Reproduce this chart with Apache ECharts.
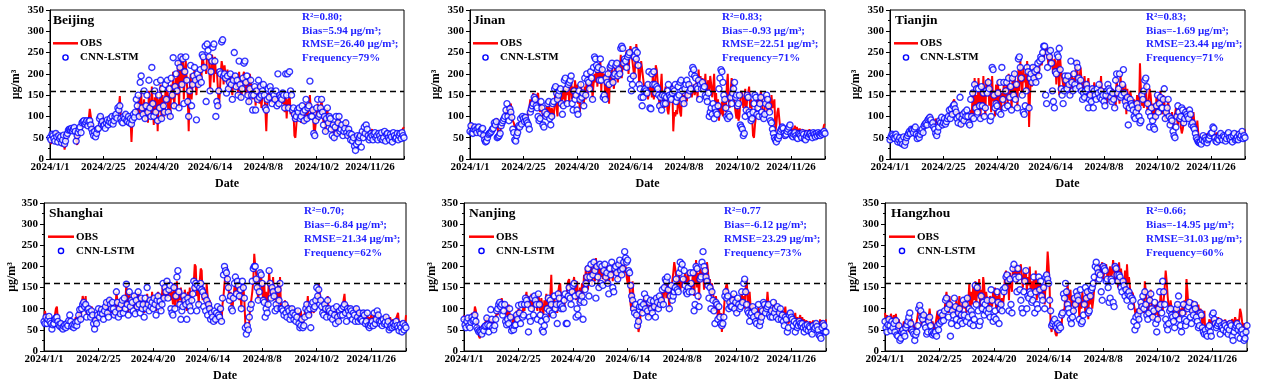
<!DOCTYPE html>
<html><head><meta charset="utf-8">
<script src="https://cdn.jsdelivr.net/npm/echarts@6/dist/echarts.min.js"></script>
<style>html,body{margin:0;padding:0;background:#fff}#c{width:1268px;height:383px}</style>
</head><body><div id="c"></div>
<script>
const tickLabels = ['2024/1/1','2024/2/25','2024/4/20','2024/6/14','2024/8/8','2024/10/2','2024/11/26'];
const tickDays = [0,55,110,165,220,275,330];
const cities = ['Beijing','Jinan','Tianjin','Shanghai','Nanjing','Hangzhou'];
const seriesNames = ['OBS','CNN-LSTM'];
const statR2 = ['R²=0.80;','R²=0.83;','R²=0.83;','R²=0.70;','R²=0.77','R²=0.66;'];
const statBias = ['Bias=5.94 μg/m³;','Bias=-0.93 μg/m³;','Bias=-1.69 μg/m³;','Bias=-6.84 μg/m³;','Bias=-6.12 μg/m³;','Bias=-14.95 μg/m³;'];
const statRMSE = ['RMSE=26.40 μg/m³;','RMSE=22.51 μg/m³;','RMSE=23.44 μg/m³;','RMSE=21.34 μg/m³;','RMSE=23.29 μg/m³;','RMSE=31.03 μg/m³;'];
const statFreq = ['Frequency=79%','Frequency=71%','Frequency=71%','Frequency=62%','Frequency=73%','Frequency=60%'];
const threshold = 160;

const obsBeijing = [
45,35,55,60,50,40,55,65,45,50,
40,55,30,45,60,22,35,50,65,70,
68,70,67,72,68,70,60,45,33,55,
60,70,65,80,85,90,75,88,92,80,
95,118,120,85,70,60,75,55,65,72,
60,85,78,95,100,88,80,75,82,90,
85,90,95,88,100,80,92,98,105,95,
100,120,148,95,90,85,100,110,95,88,
92,100,85,95,40,90,105,98,110,120,
105,150,95,125,155,110,100,140,90,115,
130,85,160,110,95,170,120,80,145,100,
165,65,140,110,175,90,150,120,100,160,
130,185,100,150,95,175,140,205,120,160,
190,150,230,120,200,245,170,245,140,210,
230,180,150,65,160,200,140,175,190,210,
180,150,200,170,195,210,185,240,230,215,
220,200,245,248,235,160,200,245,230,180,
240,200,210,170,120,150,200,230,215,175,
220,195,180,210,160,175,200,170,150,185,
200,190,165,180,150,205,170,140,160,195,
205,175,150,190,165,130,200,180,160,140,
150,170,125,160,140,175,130,155,120,150,
160,150,120,65,130,155,140,165,150,130,
145,150,130,160,140,155,120,150,140,135,
130,160,110,150,95,140,120,160,105,125,
100,115,55,50,80,110,95,120,100,85,
120,100,85,115,130,90,110,125,150,100,
95,120,70,60,85,110,130,90,100,120,
140,110,85,100,60,95,120,80,105,90,
75,60,85,45,70,90,55,80,100,85,
70,80,55,65,75,90,60,50,70,65,
45,60,40,55,35,50,40,60,45,55,
60,55,65,50,70,60,55,65,50,60,
55,65,70,60,50,55,62,58,65,50,
58,52,62,48,55,60,50,57,62,55,
52,60,55,48,62,58,50,55,60,52,
58,62,55,68,70,75];
const cnnBeijing = [
50,45,58,55,48,42,60,52,40,55,
48,52,38,45,56,35,42,55,60,68,
70,68,72,66,70,74,65,42,55,62,
70,75,62,85,88,90,82,86,90,78,
88,90,80,70,62,55,65,52,60,70,
72,95,100,82,88,78,80,72,85,92,
80,88,95,85,100,82,90,100,105,96,
120,115,125,95,88,85,100,95,105,90,
88,100,85,95,82,92,105,98,110,140,
125,150,100,180,195,120,105,160,95,125,
150,110,185,120,100,215,130,100,160,110,
180,90,150,120,185,95,165,125,110,175,
140,185,110,165,100,190,150,238,125,170,
200,160,225,120,215,240,175,235,130,205,
240,185,135,100,160,220,125,175,195,215,
185,92,200,175,190,210,180,245,240,215,
265,135,270,255,240,160,205,230,262,270,
230,100,135,125,160,205,200,275,280,195,
200,190,155,195,165,180,200,175,140,185,
250,195,170,185,150,230,175,145,165,190,
225,230,180,195,150,135,165,185,150,115,
150,170,115,160,140,185,145,170,150,160,
175,150,120,115,140,165,145,170,160,130,
155,150,140,160,125,200,130,150,145,140,
155,150,120,200,150,200,120,205,160,150,
115,120,105,95,100,115,110,120,95,100,
125,110,90,115,140,95,120,125,183,100,
100,115,60,55,90,120,140,100,105,120,
140,110,80,100,65,95,120,85,100,95,
70,55,80,50,75,100,60,85,100,65,
70,80,55,65,72,85,62,55,70,60,
45,58,42,50,30,20,35,55,40,50,
55,28,65,50,75,60,80,70,55,45,
50,60,55,45,58,62,50,55,45,60,
55,48,62,45,50,65,42,58,60,50,
45,58,52,40,62,55,48,50,60,45,
55,60,48,62,55,50];

const obsJinan = [
70,85,60,55,72,80,65,58,70,75,
62,55,68,72,50,42,38,48,55,60,
62,58,65,70,75,80,72,90,95,60,
55,65,75,80,95,88,100,110,120,105,
95,125,130,100,90,85,75,80,72,70,
65,80,90,85,100,95,88,100,105,98,
95,120,140,110,135,155,120,140,130,150,
155,125,110,130,120,100,115,95,110,125,
105,130,115,100,120,110,95,130,170,120,
100,172,135,150,120,160,140,170,130,165,
150,175,130,160,190,140,170,145,185,160,
175,130,150,110,180,145,160,125,170,140,
195,150,205,170,165,190,140,175,200,180,
210,170,225,190,230,160,215,185,200,150,
195,140,215,130,200,170,220,180,165,210,
230,195,180,215,205,245,190,225,210,240,
235,255,230,200,250,265,245,230,210,190,
230,270,272,215,175,200,230,210,190,170,
160,150,175,140,155,180,165,145,200,140,
165,220,210,180,150,120,165,200,140,130,
120,170,150,115,105,130,155,140,175,65,
110,100,115,105,145,130,110,100,155,140,
150,125,160,135,170,150,180,165,145,160,
175,150,160,185,140,210,175,195,165,190,
180,165,200,150,170,185,160,195,175,145,
165,200,130,155,110,140,90,120,105,135,
100,130,150,110,170,200,140,120,160,190,
180,150,130,110,95,120,90,100,140,160,
150,120,130,165,110,140,155,170,120,140,
100,55,50,80,100,140,130,150,120,160,
140,105,95,120,150,130,110,125,140,110,
150,120,130,140,65,80,110,120,95,70,
62,55,60,48,58,65,70,60,68,75,
65,72,60,70,78,65,75,68,62,72,
58,65,70,55,62,68,60,65,58,70,
55,62,58,65,52,60,56,62,58,65,
60,58,62,68,80,82];
const cnnJinan = [
65,78,62,60,70,75,68,62,72,75,
65,60,70,72,55,45,40,42,50,58,
60,62,65,70,72,85,80,88,50,52,
55,60,78,85,90,95,100,115,130,100,
90,118,110,98,70,62,45,42,55,62,
78,75,95,82,100,95,88,98,90,85,
80,70,110,118,125,130,145,140,125,120,
100,90,95,135,120,80,75,110,100,105,
130,135,95,80,100,130,135,165,170,155,
140,150,160,165,130,105,125,185,190,165,
130,175,180,185,195,130,115,160,140,150,
115,105,160,140,175,145,155,125,190,150,
200,185,180,165,205,190,140,215,240,235,
220,210,215,185,235,185,210,145,150,140,
190,180,200,175,215,220,225,180,195,200,
220,225,195,210,200,260,265,260,225,235,
230,215,240,245,250,188,160,175,195,240,
255,235,250,220,175,165,145,125,145,160,
165,160,155,175,205,120,118,200,175,205,
175,155,170,165,150,125,145,115,150,130,
148,130,145,160,175,150,145,140,155,165,
160,175,135,145,170,150,180,185,160,140,
130,165,175,185,150,175,160,165,200,215,
210,195,190,170,165,185,140,175,165,180,
165,170,150,145,135,155,100,110,120,105,
130,95,120,110,105,125,165,190,210,205,
180,150,140,120,100,95,105,100,145,130,
155,165,180,145,150,125,130,150,80,75,
70,55,60,100,115,150,145,110,105,90,
95,110,130,150,145,105,120,100,130,145,
110,100,95,105,130,150,140,125,110,90,
85,70,60,50,45,40,50,48,55,65,
70,75,72,60,55,58,65,70,75,80,
60,55,52,58,62,55,50,48,60,58,
55,50,62,58,48,45,55,60,52,58,
60,55,50,62,58,52,60,55,62,58,
55,60,58,62,65,60];

const obsTianjin = [
45,55,50,60,48,42,55,50,38,45,
52,40,48,35,55,30,42,55,50,58,
62,55,68,70,60,65,72,58,50,62,
55,60,68,72,65,75,80,85,78,90,
95,105,98,85,90,75,82,95,88,80,
78,90,85,92,80,88,95,85,90,95,
100,110,95,120,105,135,140,120,110,115,
100,95,110,75,90,100,85,110,95,100,
105,90,80,115,100,160,95,190,120,150,
110,190,130,95,170,120,195,140,100,185,
150,190,125,170,110,195,135,160,100,175,
130,185,120,165,105,155,140,175,120,160,
180,130,200,145,170,115,190,150,205,140,
175,120,210,160,230,190,150,215,180,200,
160,230,185,75,150,200,170,220,190,210,
180,205,215,195,230,240,220,245,235,250,
255,265,240,220,250,230,245,215,200,235,
230,175,220,240,150,235,205,190,175,160,
200,185,165,195,175,150,180,205,160,190,
175,210,230,200,165,190,215,180,160,170,
195,160,145,175,190,150,165,135,170,155,
180,160,140,165,150,175,160,195,140,155,
165,140,150,130,175,160,145,130,150,165,
140,155,120,190,150,165,130,200,145,175,
160,130,175,105,165,140,120,160,145,130,
115,140,120,100,150,130,110,225,160,125,
140,120,150,175,130,110,140,165,150,120,
100,130,115,90,150,125,110,140,160,120,
105,150,135,90,120,110,140,100,80,95,
110,70,90,105,120,95,80,100,110,75,
60,70,85,105,120,110,100,115,90,105,
80,95,110,85,75,65,90,60,45,40,
35,42,55,38,50,45,60,52,48,55,
58,52,60,65,50,55,62,58,48,55,
60,52,58,62,55,50,58,60,52,56,
55,62,58,50,60,55,65,58,52,60,
62,55,58,65,60,70];
const cnnTianjin = [
45,52,58,55,50,48,58,52,40,45,
50,38,45,35,52,32,40,50,55,60,
65,60,70,68,62,70,75,58,48,55,
50,58,65,70,62,78,82,85,80,92,
95,98,92,80,85,75,70,60,55,65,
75,90,85,98,80,85,95,82,88,95,
100,115,95,118,105,125,128,118,110,95,
85,100,145,82,95,105,90,110,100,115,
100,85,80,140,100,155,95,175,120,165,
110,165,125,95,170,125,155,100,120,160,
155,180,165,90,100,215,210,150,120,130,
125,155,110,180,105,215,140,180,120,160,
180,125,190,145,170,115,190,150,200,140,
175,120,235,240,215,190,150,110,105,125,
160,215,205,120,190,200,180,215,190,205,
180,210,225,195,230,240,235,250,265,265,
150,130,215,250,240,255,225,160,135,120,
205,200,245,240,260,210,165,150,130,160,
195,185,165,195,175,150,230,180,160,200,
175,165,225,215,190,170,185,160,140,155,
145,160,175,165,120,140,150,135,165,120,
160,150,140,165,155,175,145,160,140,150,
135,125,150,160,175,165,160,145,135,155,
140,120,185,200,155,165,200,145,150,175,
210,155,135,125,145,80,120,140,130,125,
115,100,95,110,130,120,100,85,90,150,
140,160,185,190,170,130,110,75,100,120,
90,75,70,100,125,150,110,130,145,120,
120,140,165,95,110,120,140,100,80,95,
90,65,55,50,75,100,125,110,95,100,
120,115,85,95,110,105,100,95,115,105,
80,85,75,70,60,50,45,40,38,40,
35,45,55,42,50,45,38,45,48,55,
60,62,75,72,50,42,40,48,45,55,
60,50,45,55,52,42,48,58,62,50,
45,52,40,55,60,45,48,52,45,58,
50,55,65,48,55,50];

const obsShanghai = [
70,95,80,65,75,85,70,65,60,75,
70,85,100,105,75,65,60,70,62,58,
60,65,55,70,62,75,80,68,60,72,
65,70,80,60,75,90,100,70,110,130,
120,95,130,85,110,100,90,80,105,95,
70,55,80,65,90,100,85,95,105,90,
80,100,110,120,95,85,125,105,90,115,
100,80,95,140,120,90,105,85,110,125,
95,130,110,160,120,90,140,100,125,115,
105,135,90,120,100,140,110,95,130,100,
115,90,120,100,135,110,95,125,105,140,
100,130,110,95,125,140,105,120,95,135,
160,120,150,130,165,125,145,155,120,140,
110,160,100,130,165,105,140,120,150,110,
130,100,145,115,95,140,120,150,105,125,
140,160,205,200,130,150,110,165,195,190,
120,150,140,105,160,130,95,120,110,90,
85,75,95,65,80,105,90,75,100,70,
110,130,160,180,200,170,150,120,140,105,
100,125,150,170,135,160,145,120,140,100,
160,155,120,65,50,45,55,70,110,120,
140,165,230,200,180,150,120,160,190,175,
145,120,165,110,140,100,130,190,150,120,
140,175,120,150,130,100,165,120,175,95,
110,100,90,120,95,85,110,100,80,90,
105,95,80,90,75,85,100,70,80,95,
70,60,75,90,110,100,130,85,95,80,
115,100,90,120,105,130,125,160,140,110,
120,100,90,115,105,85,130,100,95,80,
90,75,100,85,70,95,80,65,90,85,
100,85,120,135,100,90,110,95,85,105,
100,80,95,90,75,105,85,80,95,75,
80,70,95,85,75,70,90,65,80,75,
85,70,75,90,65,80,95,85,70,80,
75,65,80,70,72,85,68,75,65,80,
70,65,75,60,70,68,72,90,62,70,
65,70,60,55,60,85];
const cnnShanghai = [
70,65,80,65,75,82,70,65,52,62,
65,75,78,80,70,62,58,65,55,52,
58,62,55,65,60,72,85,70,58,62,
55,62,68,60,70,85,98,75,100,110,
115,105,110,80,98,100,92,80,95,85,
65,52,72,65,85,100,80,90,98,88,
75,95,105,115,90,80,120,110,100,115,
100,85,92,140,115,80,100,88,110,120,
90,125,100,158,110,85,140,105,120,115,
95,130,88,120,105,140,110,90,125,100,
110,80,125,100,150,110,95,120,105,115,
100,125,110,85,120,130,105,118,95,110,
160,125,150,140,165,125,145,155,100,90,
85,150,100,130,175,190,140,110,75,95,
105,130,120,110,75,125,115,105,95,120,
135,165,150,160,95,155,110,150,160,145,
140,105,130,95,120,85,110,100,75,90,
80,70,95,75,90,105,85,80,100,70,
125,180,200,190,185,170,150,120,130,100,
95,125,160,175,135,165,155,130,145,100,
165,150,125,55,40,60,50,80,100,110,
165,195,200,200,170,150,120,140,185,180,
160,120,115,80,100,90,110,190,160,125,
150,140,130,95,110,100,145,120,160,100,
100,95,85,110,90,80,100,95,75,85,
100,90,75,85,70,80,95,65,55,60,
75,55,60,80,100,110,95,85,100,55,
110,115,100,105,120,150,130,145,110,120,
105,90,85,110,100,80,120,100,95,80,
90,75,100,85,65,105,80,70,95,85,
100,85,105,110,90,70,100,95,85,100,
95,75,90,85,70,100,80,70,90,75,
75,70,90,85,65,70,90,60,55,60,
65,70,60,90,65,75,95,85,70,65,
70,60,75,65,68,80,62,70,50,55,
60,55,65,58,62,70,60,55,48,62,
55,45,65,50,60,55];

const obsNanjing = [
85,70,60,75,80,65,55,70,90,75,
80,105,95,65,50,35,30,45,60,55,
50,65,70,80,60,55,70,75,60,70,
65,75,80,90,85,100,110,95,125,128,
100,115,85,95,80,110,90,75,85,70,
60,85,70,95,75,100,90,80,95,85,
110,95,125,140,105,130,120,100,135,115,
95,130,120,110,95,135,115,90,125,105,
85,120,100,135,95,115,80,130,180,110,
95,125,105,115,90,140,155,160,120,100,
110,95,130,120,150,165,170,140,120,130,
160,175,145,120,165,130,110,150,125,160,
130,180,160,200,170,145,190,175,205,155,
180,210,165,220,190,205,150,200,175,210,
170,195,185,160,205,175,155,190,180,200,
165,210,195,180,205,170,200,215,190,175,
210,220,185,200,175,160,190,150,110,95,
165,120,85,100,90,70,45,60,85,100,
90,110,130,100,120,95,80,110,125,100,
90,120,105,95,130,115,100,125,110,120,
140,110,150,175,125,160,145,100,130,155,
165,185,210,195,170,150,160,185,140,165,
150,175,160,185,145,170,190,155,165,140,
160,190,130,170,215,150,185,120,195,170,
175,200,145,180,160,210,190,150,170,130,
160,140,120,95,130,110,75,100,80,90,
45,70,95,130,150,160,140,110,125,100,
130,120,135,100,110,90,125,115,105,120,
140,110,130,100,150,170,120,90,140,105,
90,110,80,100,70,95,85,105,60,75,
80,100,115,120,90,105,140,110,95,85,
100,80,110,95,120,85,105,75,90,100,
80,95,70,90,105,75,85,65,70,80,
95,75,85,70,90,65,80,60,75,85,
65,80,70,75,60,72,68,75,62,70,
58,65,72,70,60,68,55,60,50,75,
60,72,65,70,58,75];
const cnnNanjing = [
75,62,55,70,78,60,55,68,80,72,
75,85,70,55,50,45,48,45,40,52,
48,58,60,78,62,45,60,98,75,55,
50,60,75,95,100,110,115,105,110,85,
95,110,70,62,75,65,100,80,48,55,
50,60,62,85,75,108,90,65,110,80,
85,110,125,120,110,45,80,70,100,125,
85,130,120,110,75,135,110,85,70,50,
45,60,80,75,100,125,95,120,110,90,
85,130,100,110,65,135,125,110,100,105,
100,120,135,65,65,130,150,125,110,140,
155,160,130,80,100,85,135,115,120,130,
75,115,145,160,175,195,130,175,205,160,
180,210,190,125,200,175,150,205,160,200,
155,190,205,175,185,160,135,195,180,210,
150,140,195,200,185,170,205,215,190,180,
195,210,235,220,210,215,190,185,155,130,
120,100,90,110,85,60,70,105,115,105,
90,110,135,100,125,95,80,115,120,100,
90,118,105,80,125,115,100,130,110,120,
145,110,150,170,165,175,145,100,130,155,
120,130,140,150,170,145,140,185,210,195,
205,170,190,155,140,135,150,140,185,160,
140,185,95,110,200,195,130,105,170,175,
210,235,200,190,175,165,155,125,150,100,
140,120,95,65,115,110,75,105,80,65,
60,65,80,130,140,125,130,100,115,105,
105,120,135,100,115,90,125,110,100,105,
140,115,160,170,140,110,95,90,70,85,
90,105,80,95,70,65,85,110,60,70,
80,95,115,110,90,100,105,110,85,80,
95,80,115,90,100,80,105,75,90,100,
75,85,70,60,80,75,45,55,85,90,
80,75,60,70,45,65,55,60,70,65,
60,65,55,45,60,52,62,48,58,55,
45,40,60,52,55,65,58,50,38,35,
30,55,65,60,45,45];

const obsHangzhou = [
90,75,85,65,80,70,88,75,60,85,
70,88,60,55,75,45,25,40,55,70,
50,65,75,60,45,55,70,75,65,60,
45,55,70,85,110,100,80,60,75,90,
85,70,55,65,80,100,75,60,70,55,
50,65,80,95,70,60,85,75,90,80,
95,120,140,110,90,130,100,115,85,105,
110,90,125,80,100,130,75,95,110,120,
100,125,90,130,115,160,85,140,110,155,
120,165,110,150,130,170,100,145,120,175,
155,110,140,120,100,95,130,115,105,140,
120,150,100,130,90,145,115,95,125,110,
130,180,190,150,170,120,185,160,140,195,
200,175,205,160,190,180,195,205,170,150,
185,160,195,140,175,155,200,130,165,145,
170,140,190,120,155,175,130,160,145,120,
150,110,165,180,235,200,150,60,45,75,
65,55,40,35,50,60,45,70,55,95,
95,100,140,110,160,135,120,145,105,130,
120,90,135,105,145,115,80,125,100,140,
110,130,90,145,120,75,150,110,135,100,
120,150,165,180,200,175,190,205,180,210,
170,185,195,205,180,160,190,200,175,185,
215,190,160,205,180,150,210,175,195,165,
170,140,190,130,205,160,175,150,120,140,
135,110,95,80,100,70,85,115,90,105,
120,90,165,140,110,80,100,130,145,100,
75,90,110,85,120,95,70,100,140,115,
95,120,150,190,165,130,105,90,120,100,
80,95,70,85,105,110,90,75,100,85,
110,95,120,85,170,140,100,115,90,105,
120,90,105,80,115,95,110,85,100,90,
60,75,95,40,50,60,55,75,65,70,
80,60,70,75,55,65,80,60,70,75,
65,70,58,75,60,68,72,65,70,62,
75,70,65,80,72,60,75,70,100,90,
70,55,65,60,50,58];
const cnnHangzhou = [
70,55,45,62,75,60,48,70,55,65,
45,72,38,35,60,25,30,45,50,42,
35,55,62,70,80,90,65,50,45,40,
25,38,45,60,100,108,95,80,75,85,
62,55,40,45,70,80,60,45,38,42,
40,45,35,60,50,65,90,70,85,72,
95,120,125,100,80,110,35,65,95,85,
125,105,75,60,90,100,70,85,65,120,
85,110,70,125,80,100,65,95,85,60,
75,155,110,150,95,60,70,130,100,115,
85,110,95,120,90,100,80,145,120,70,
80,95,75,140,115,65,100,110,95,145,
140,150,175,180,165,95,170,110,90,195,
205,175,170,140,195,175,145,120,100,90,
140,165,190,100,130,125,140,135,115,120,
175,90,140,110,100,175,145,165,130,120,
150,100,175,180,170,160,120,95,60,65,
70,75,60,55,65,50,60,55,85,90,
135,125,160,140,110,100,90,75,65,80,
95,125,110,140,130,120,75,145,65,70,
85,110,150,125,140,90,95,130,145,150,
160,175,200,210,195,185,170,180,140,120,
200,195,190,165,170,150,115,125,170,165,
115,105,200,195,180,165,180,175,150,140,
165,155,130,145,120,135,140,130,105,125,
120,70,50,80,60,85,75,95,115,105,
130,100,140,110,85,75,90,120,135,100,
80,95,115,65,45,75,100,140,110,90,
165,140,110,75,60,50,65,95,100,85,
80,70,55,85,100,110,130,75,60,45,
90,110,75,60,70,100,105,115,80,65,
95,85,110,100,80,70,55,60,90,85,
55,45,40,50,40,35,55,60,45,35,
85,90,75,65,55,60,65,70,40,60,
55,50,65,60,45,55,40,50,65,60,
35,25,45,55,60,65,50,58,30,45,
50,40,25,30,45,60];

const obsAll = [obsBeijing, obsJinan, obsTianjin, obsShanghai, obsNanjing, obsHangzhou];
const cnnAll = [cnnBeijing, cnnJinan, cnnTianjin, cnnShanghai, cnnNanjing, cnnHangzhou];

// layout (pixels)
const grids = [
  {left:50, top:10, width:354, height:149},
  {left:470, top:10, width:355, height:149},
  {left:890, top:10, width:355, height:149},
  {left:44, top:203, width:362, height:149},
  {left:464, top:203, width:362, height:149},
  {left:885, top:203, width:362, height:149}
];
const statPos = [[302,17],[722,17],[1146,17],[304,211.5],[724,211.5],[1146,211.5]];
const namePos = [[53,21],[473,21],[895,21],[49,213.5],[469,213.5],[891,213.5]];
// legend: [lineX1, lineX2, y of first row, text x]
const legendPos = [[53,78,43.3,80],[473,498,43.3,500],[894,918,43.3,920],
                   [48,74,236.7,76],[469,494,236.7,496],[889,915,236.7,917]];

const FONT = '"Liberation Serif", "Times New Roman", serif';
const chart = echarts.init(document.getElementById('c'), null, {renderer:'canvas'});

const option = {
  animation:false,
  backgroundColor:'#fff',
  grid: grids.map(g => Object.assign({show:true, borderColor:'#000', borderWidth:1, backgroundColor:'transparent'}, g)),
  xAxis: grids.map((g,i) => ({
    type:'value', gridIndex:i, min:0, max:365, interval:55,
    name:'Date', nameLocation:'middle', nameGap:19,
    nameTextStyle:{fontFamily:FONT, fontWeight:'bold', fontSize:12, color:'#000'},
    axisLine:{lineStyle:{color:'#000', width:1}},
    axisTick:{inside:true, length:3, lineStyle:{color:'#000'}},
    axisLabel:{fontFamily:FONT, fontWeight:'bold', fontSize:11, color:'#000', margin:3,
      formatter: v => { const k = tickDays.indexOf(v); return k >= 0 ? tickLabels[k] : ''; }},
    splitLine:{show:false}
  })),
  yAxis: grids.map((g,i) => ({
    type:'value', gridIndex:i, min:0, max:350, interval:50,
    name:'μg/m³', nameLocation:'middle', nameGap: i < 3 ? 28 : 24, nameRotate:90,
    nameTextStyle:{fontFamily:FONT, fontWeight:'bold', fontSize:12, color:'#000'},
    axisLine:{show:true, lineStyle:{color:'#000', width:1}},
    axisTick:{show:true, inside:false, length:4, lineStyle:{color:'#000'}},
    minorTick:{show:true, splitNumber:2, length:2, lineStyle:{color:'#000'}},
    axisLabel:{fontFamily:FONT, fontWeight:'bold', fontSize:11, color:'#000', margin:6},
    splitLine:{show:false}
  })),
  series: [],
  graphic: []
};

for (let i = 0; i < 6; i++) {
  option.series.push({
    type:'line', name:seriesNames[0], xAxisIndex:i, yAxisIndex:i,
    data: obsAll[i].map((v,d) => [d, v]),
    symbol:'none', z:2,
    lineStyle:{color:'#ff0000', width:2},
    itemStyle:{color:'#ff0000'},
    markLine:{silent:true, symbol:['none','none'], label:{show:false},
      lineStyle:{color:'#000', type:[6,4], width:1.4},
      data:[{yAxis:threshold}]}
  });
  option.series.push({
    type:'scatter', name:seriesNames[1], xAxisIndex:i, yAxisIndex:i,
    data: cnnAll[i].map((v,d) => [d, v]),
    symbol:'circle', symbolSize:6, z:3,
    itemStyle:{color:'#ffffff', borderColor:'#0000ff', borderWidth:1.4}
  });
  // city name
  option.graphic.push({
    type:'text', x:namePos[i][0], y:namePos[i][1], z:10,
    style:{text:cities[i], font:'bold 13.5px ' + FONT, fill:'#000', verticalAlign:'middle'}
  });
  // legend (drawn)
  const L = legendPos[i];
  option.graphic.push({type:'line', z:10, shape:{x1:L[0], y1:L[2], x2:L[1], y2:L[2]},
    style:{stroke:'#ff0000', lineWidth:2.5}});
  option.graphic.push({type:'text', x:L[3], y:L[2], z:10,
    style:{text:seriesNames[0], font:'bold 11px ' + FONT, fill:'#000', verticalAlign:'middle'}});
  option.graphic.push({type:'circle', z:10, shape:{cx:(L[0]+L[1])/2, cy:L[2]+14.2, r:2.6},
    style:{fill:'#fff', stroke:'#0000ff', lineWidth:1.4}});
  option.graphic.push({type:'text', x:L[3], y:L[2]+14.2, z:10,
    style:{text:seriesNames[1], font:'bold 11px ' + FONT, fill:'#000', verticalAlign:'middle'}});
  // stats
  const lines = [statR2[i], statBias[i], statRMSE[i], statFreq[i]];
  lines.forEach((t,k) => {
    option.graphic.push({
      type:'text', x:statPos[i][0], y:statPos[i][1] + k*13.8, z:10,
      style:{text:t, font:'bold 11px ' + FONT, fill:'#1f1fff', verticalAlign:'middle'}
    });
  });
}
chart.setOption(option);
</script></body></html>
